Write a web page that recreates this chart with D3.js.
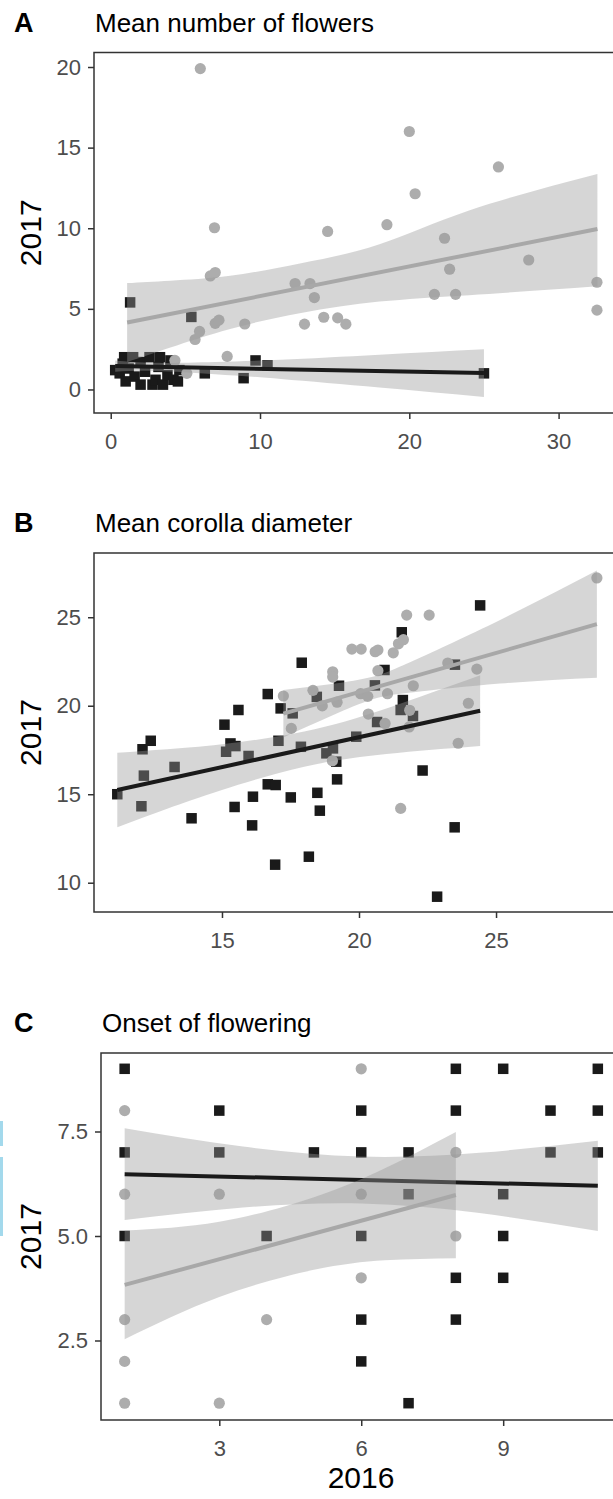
<!DOCTYPE html>
<html>
<head>
<meta charset="utf-8">
<script src="https://cdn.jsdelivr.net/npm/d3@7"></script>
<style>
  body { margin: 0; background: #fff; }
  svg { display: block; font-family: "Liberation Sans", Arial, sans-serif; }
</style>
</head>
<body>
<div id="chart-area"></div>
<script>
// ---- A: mean number of flowers ----
const flowersSquareX = [0.3, 0.6, 0.8, 0.9, 1.0, 1.2, 1.3, 1.5, 1.6, 2.0, 2.0, 2.3, 2.6, 2.8, 3.0, 3.2, 3.3, 3.5, 3.8, 4.0, 4.2, 4.5, 4.6, 5.4, 6.3, 8.9, 9.7, 10.5, 25.0]
const flowersSquareY = [1.2, 1.0, 1.6, 2.0, 0.5, 1.3, 5.4, 2.0, 0.8, 0.3, 1.7, 1.1, 2.0, 0.3, 0.6, 1.4, 2.0, 0.3, 0.9, 1.8, 0.6, 0.5, 1.2, 4.5, 1.0, 0.7, 1.8, 1.5, 1.0]
const flowersCircleX = [4.3, 5.1, 5.65, 5.95, 6.0, 6.67, 7.0, 6.95, 7.0, 7.25, 7.8, 8.98, 12.35, 12.98, 13.35, 13.64, 14.27, 14.53, 15.2, 15.75, 18.5, 20.0, 20.39, 21.68, 22.36, 22.7, 23.1, 25.97, 28.0, 32.57, 32.57]
const flowersCircleY = [1.8, 1.0, 3.1, 3.6, 19.9, 7.04, 7.25, 10.03, 4.1, 4.3, 2.05, 4.06, 6.57, 4.05, 6.57, 5.7, 4.48, 9.8, 4.44, 4.05, 10.22, 16.0, 12.14, 5.9, 9.38, 7.46, 5.9, 13.8, 8.03, 6.65, 4.92]
const flowersSquareFitX = [0.3, 25.0]
const flowersSquareFitY = [1.45, 1.02]
const flowersSquareBandX = [0.3, 3, 7, 11.4, 18, 25]
const flowersSquareBandLo = [1.10, 1.15, 0.95, 0.65, 0.12, -0.46]
const flowersSquareBandHi = [1.80, 1.65, 1.71, 1.85, 2.16, 2.50]
const flowersCircleFitX = [1.1, 32.6]
const flowersCircleFitY = [4.15, 9.95]
const flowersCircleBandX = [1.1, 4, 8, 12.75, 18, 24, 32.6]
const flowersCircleBandLo = [1.7, 2.6, 3.75, 4.75, 5.45, 5.85, 6.4]
const flowersCircleBandHi = [6.6, 6.75, 7.05, 7.83, 9.0, 11.1, 13.36]
const flowersXTicks = [0, 10, 20, 30]
const flowersYTicks = [0, 5, 10, 15, 20]

// ---- B: mean corolla diameter ----
const corollaSquareX = [11.18, 12.06, 12.15, 12.1, 12.4, 13.27, 13.89, 15.09, 15.31, 15.49, 15.15, 15.6, 15.46, 15.97, 16.13, 16.1, 16.67, 16.67, 16.96, 17.14, 17.06, 16.94, 17.51, 17.58, 17.88, 17.91, 18.17, 18.46, 18.48, 18.57, 18.81, 19.05, 19.17, 19.2, 19.27, 19.9, 20.58, 20.66, 20.93, 21.56, 21.6, 21.52, 21.97, 22.32, 22.85, 23.49, 23.5, 24.42]
const corollaSquareY = [15.0, 14.32, 16.05, 17.54, 18.02, 16.54, 13.64, 18.93, 17.87, 17.72, 17.4, 19.76, 14.28, 17.16, 14.86, 13.24, 20.66, 15.56, 15.52, 19.85, 18.02, 11.02, 14.82, 19.57, 17.68, 22.43, 11.47, 20.5, 15.08, 14.07, 17.31, 17.59, 16.84, 15.84, 21.13, 18.25, 21.15, 19.08, 22.02, 24.15, 20.32, 19.76, 19.42, 16.34, 9.21, 13.13, 22.32, 25.67]
const corollaCircleX = [17.24, 17.53, 18.32, 18.66, 19.03, 19.04, 19.04, 19.2, 19.74, 20.08, 20.06, 20.32, 20.34, 20.59, 20.69, 20.69, 20.95, 21.04, 21.25, 21.44, 21.52, 21.62, 21.74, 21.83, 21.85, 21.98, 22.56, 23.24, 23.62, 23.99, 24.3, 28.68]
const corollaCircleY = [20.55, 18.72, 20.87, 19.99, 16.89, 21.92, 21.62, 20.2, 23.2, 23.2, 20.68, 20.53, 19.53, 23.05, 23.15, 21.98, 19.0, 20.68, 22.99, 23.5, 14.2, 23.73, 25.12, 18.8, 19.74, 21.13, 25.12, 22.41, 17.88, 20.14, 22.07, 27.22]
const corollaSquareFitX = [11.18, 24.42]
const corollaSquareFitY = [15.24, 19.72]
const corollaSquareBandX = [11.18, 13, 15, 18, 21, 24.42]
const corollaSquareBandLo = [13.14, 14.18, 15.24, 16.55, 17.27, 17.72]
const corollaSquareBandHi = [17.34, 17.54, 17.82, 18.55, 19.85, 21.72]
const corollaCircleFitX = [17.24, 28.68]
const corollaCircleFitY = [19.55, 24.61]
const corollaCircleBandX = [17.24, 19, 20.5, 22, 25.15, 28.68]
const corollaCircleBandLo = [18.21, 19.43, 20.36, 20.76, 21.25, 21.58]
const corollaCircleBandHi = [20.89, 21.23, 21.64, 22.56, 24.85, 27.64]
const corollaXTicks = [15, 20, 25]
const corollaYTicks = [10, 15, 20, 25]

// ---- C: onset of flowering ----
const onsetSquareX = [1, 8, 9, 11, 3, 6, 8, 10, 11, 1, 3, 5, 6, 7, 10, 11, 7, 9, 1, 4, 6, 9, 8, 9, 6, 8, 6, 7]
const onsetSquareY = [9, 9, 9, 9, 8, 8, 8, 8, 8, 7, 7, 7, 7, 7, 7, 7, 6, 6, 5, 5, 5, 5, 4, 4, 3, 3, 2, 1]
const onsetCircleX = [6, 1, 8, 1, 3, 6, 8, 6, 1, 4, 1, 1, 3]
const onsetCircleY = [9, 8, 7, 6, 6, 6, 5, 4, 3, 3, 2, 1, 1]
const onsetSquareFitX = [1, 11]
const onsetSquareFitY = [6.48, 6.2]
const onsetSquareBandX = [1, 3.5, 6, 8.5, 11]
const onsetSquareBandLo = [5.38, 5.68, 5.78, 5.55, 5.12]
const onsetSquareBandHi = [7.58, 7.14, 6.90, 6.99, 7.28]
const onsetCircleFitX = [1, 8]
const onsetCircleFitY = [3.83, 5.98]
const onsetCircleBandX = [1, 3, 5, 6.5, 8]
const onsetCircleBandLo = [2.53, 3.54, 4.19, 4.42, 4.47]
const onsetCircleBandHi = [5.13, 5.34, 5.93, 6.62, 7.49]
const onsetXTicks = [3, 6, 9]
const onsetYTicks = [2.5, 5.0, 7.5]

const WIDTH = 613
const HEIGHT = 1499
const FRAME_RIGHT = 621
const SQUARE = 10.5
const RADIUS = 5.6
const DARK = '#1a1a1a'
const LIGHT = '#adadad'

const svg = d3.select('#chart-area').append('svg')
  .attr('width', WIDTH)
  .attr('height', HEIGHT)

const intFmt = d3.format('d')
const panels = [
  {
    letter: 'A', title: 'Mean number of flowers', top: 52.5, bottom: 413, left: 94, titleY: 32,
    xDomain: [-1.12, 34.18], yDomain: [-1.46, 20.9],
    sqX: flowersSquareX, sqY: flowersSquareY, ciX: flowersCircleX, ciY: flowersCircleY,
    sqFit: [flowersSquareFitX, flowersSquareFitY], sqBand: [flowersSquareBandX, flowersSquareBandLo, flowersSquareBandHi],
    ciFit: [flowersCircleFitX, flowersCircleFitY], ciBand: [flowersCircleBandX, flowersCircleBandLo, flowersCircleBandHi],
    xTicks: flowersXTicks, yTicks: flowersYTicks, xFmt: intFmt, yFmt: intFmt
  },
  {
    letter: 'B', title: 'Mean corolla diameter', top: 553, bottom: 912, left: 94, titleY: 532,
    xDomain: [10.33, 29.56], yDomain: [8.345, 28.63],
    sqX: corollaSquareX, sqY: corollaSquareY, ciX: corollaCircleX, ciY: corollaCircleY,
    sqFit: [corollaSquareFitX, corollaSquareFitY], sqBand: [corollaSquareBandX, corollaSquareBandLo, corollaSquareBandHi],
    ciFit: [corollaCircleFitX, corollaCircleFitY], ciBand: [corollaCircleBandX, corollaCircleBandLo, corollaCircleBandHi],
    xTicks: corollaXTicks, yTicks: corollaYTicks, xFmt: intFmt, yFmt: intFmt
  },
  {
    letter: 'C', title: 'Onset of flowering', top: 1053, bottom: 1420, left: 101, titleY: 1032,
    xDomain: [0.5, 11.49], yDomain: [0.598, 9.378],
    sqX: onsetSquareX, sqY: onsetSquareY, ciX: onsetCircleX, ciY: onsetCircleY,
    sqFit: [onsetSquareFitX, onsetSquareFitY], sqBand: [onsetSquareBandX, onsetSquareBandLo, onsetSquareBandHi],
    ciFit: [onsetCircleFitX, onsetCircleFitY], ciBand: [onsetCircleBandX, onsetCircleBandLo, onsetCircleBandHi],
    xTicks: onsetXTicks, yTicks: onsetYTicks, xFmt: intFmt, yFmt: d3.format('.1f')
  }
]

panels.forEach((p) => {
  const x = d3.scaleLinear().domain(p.xDomain).range([p.left, FRAME_RIGHT])
  const y = d3.scaleLinear().domain(p.yDomain).range([p.bottom, p.top])
  const g = svg.append('g')

  // panel letter and title
  g.append('text')
    .attr('x', 14).attr('y', p.titleY)
    .attr('font-size', '27px').attr('font-weight', '700')
    .text(p.letter)
  g.append('text')
    .attr('x', p.left + 1).attr('y', p.titleY)
    .attr('font-size', '26px')
    .text(p.title)

  // points: squares then circles
  g.selectAll('rect.sq').data(d3.zip(p.sqX, p.sqY)).enter()
    .append('rect')
    .attr('class', 'sq')
    .attr('x', d => x(d[0]) - SQUARE / 2)
    .attr('y', d => y(d[1]) - SQUARE / 2)
    .attr('width', SQUARE)
    .attr('height', SQUARE)
    .attr('fill', DARK)
  g.selectAll('circle.ci').data(d3.zip(p.ciX, p.ciY)).enter()
    .append('circle')
    .attr('class', 'ci')
    .attr('cx', d => x(d[0]))
    .attr('cy', d => y(d[1]))
    .attr('r', RADIUS)
    .attr('fill', LIGHT)

  const area = d3.area()
    .x(d => x(d[0])).y0(d => y(d[1])).y1(d => y(d[2]))
    .curve(d3.curveNatural)
  const line = d3.line().x(d => x(d[0])).y(d => y(d[1]))

  // smooth for squares first, then circles (drawn over it)
  const groups = [[p.sqBand, p.sqFit, DARK], [p.ciBand, p.ciFit, '#a8a8a8']]
  groups.forEach(([band, fit, col]) => {
    g.append('path')
      .datum(d3.zip(band[0], band[1], band[2]))
      .attr('d', area)
      .attr('fill', '#999999')
      .attr('fill-opacity', 0.4)
    g.append('path')
      .datum(d3.zip(fit[0], fit[1]))
      .attr('d', line)
      .attr('fill', 'none')
      .attr('stroke', col)
      .attr('stroke-width', 4)
  })

  // frame
  g.append('rect')
    .attr('x', p.left).attr('y', p.top)
    .attr('width', FRAME_RIGHT - p.left).attr('height', p.bottom - p.top)
    .attr('fill', 'none').attr('stroke', '#333').attr('stroke-width', 1.5)

  const xAxisCall = d3.axisBottom(x).tickValues(p.xTicks).tickSize(6).tickPadding(14).tickFormat(p.xFmt)
  const xa = g.append('g')
    .attr('transform', `translate(0, ${p.bottom})`)
    .call(xAxisCall)
  const yAxisCall = d3.axisLeft(y).tickValues(p.yTicks).tickSize(6).tickPadding(7).tickFormat(p.yFmt)
  const ya = g.append('g')
    .attr('transform', `translate(${p.left}, 0)`)
    .call(yAxisCall)
  ;[xa, ya].forEach((a) => {
    a.select('.domain').remove()
    a.selectAll('line').attr('stroke', '#333').attr('stroke-width', 1.5)
    a.selectAll('text').attr('fill', '#4d4d4d').attr('font-size', '22px')
      .attr('font-family', '"Liberation Sans", Arial, sans-serif')
  })

  // y label
  g.append('text')
    .attr('transform', `translate(41, ${(p.top + p.bottom) / 2}) rotate(-90)`)
    .attr('text-anchor', 'middle')
    .attr('font-size', '30px')
    .text('2017')
})

// x label (bottom panel only)
svg.append('text')
  .attr('x', (101 + FRAME_RIGHT) / 2)
  .attr('y', 1488)
  .attr('text-anchor', 'middle')
  .attr('font-size', '30px')
  .text('2016')

// light blue marks at the left edge of the scan
svg.append('rect').attr('x', 0).attr('y', 1121).attr('width', 3).attr('height', 25).attr('fill', '#a3d9ec')
svg.append('rect').attr('x', 0).attr('y', 1157).attr('width', 3).attr('height', 79).attr('fill', '#a3d9ec')
</script>
</body>
</html>
